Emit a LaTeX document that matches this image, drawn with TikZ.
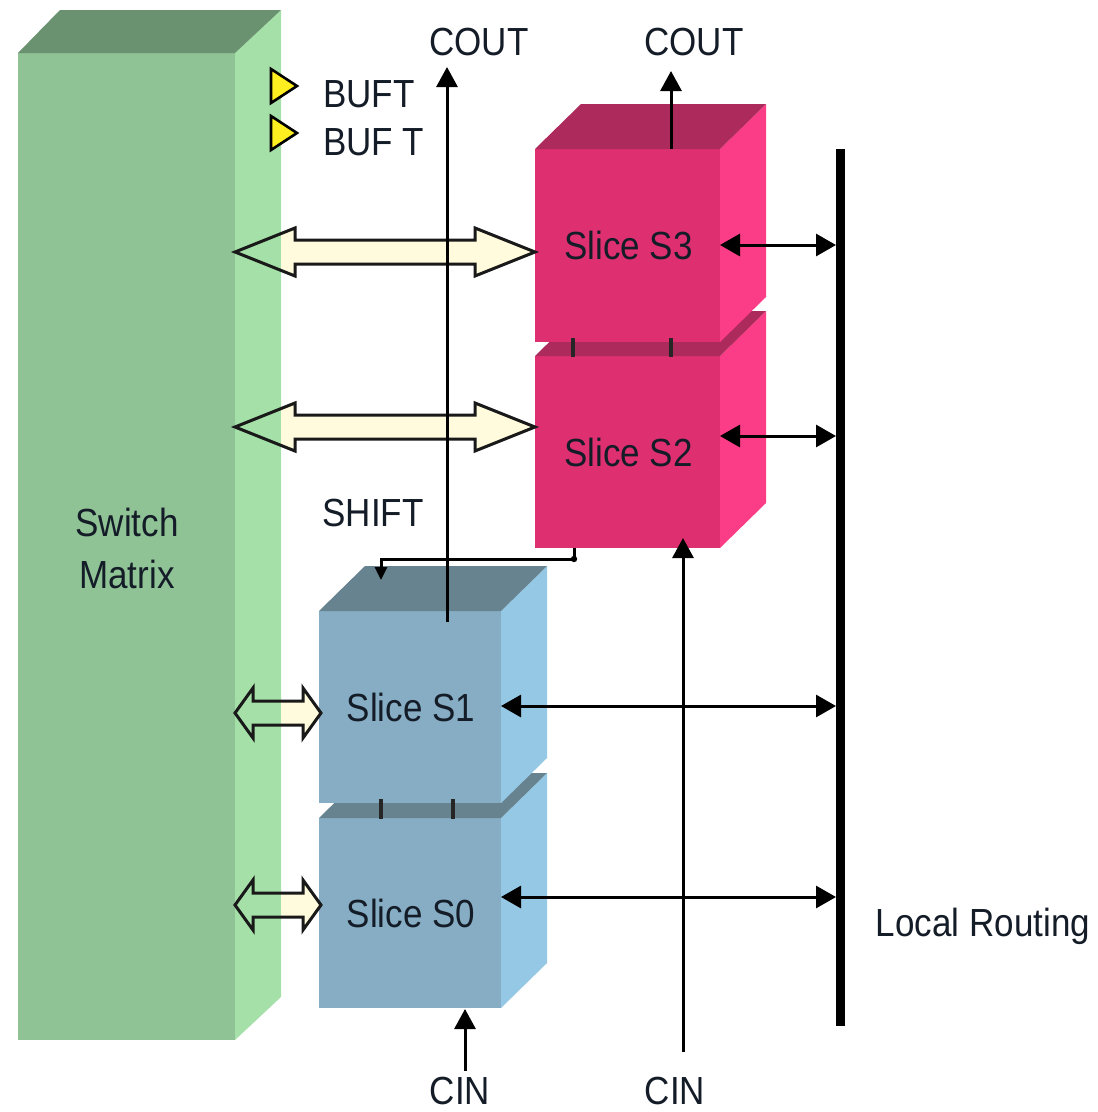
\documentclass[tikz,border=0pt]{standalone}
\usepackage{graphicx}
\usepackage{fontspec}
\setmainfont{Liberation Sans}
\usetikzlibrary{arrows.meta,calc}
\definecolor{gfront}{HTML}{8FC294}
\definecolor{gside}{HTML}{A5E0A8}
\definecolor{gtop}{HTML}{6B9270}
\definecolor{pfront}{HTML}{DE3070}
\definecolor{pside}{HTML}{FB3C86}
\definecolor{ptop}{HTML}{AD2A5C}
\definecolor{bfront}{HTML}{86ADC3}
\definecolor{bside}{HTML}{95C8E4}
\definecolor{btop}{HTML}{66838F}
\definecolor{cream}{HTML}{FFFBDC}
\definecolor{buf}{HTML}{FFEE20}
\definecolor{ink}{HTML}{141C28}
\newcommand{\tall}[1]{\scalebox{1}[1.12]{#1}}
\tikzset{
  lbl/.style={font=\fontsize{35}{52}\selectfont, text=ink, inner sep=0pt, outer sep=0pt, align=center},
  face/.style={rectangle, inner sep=0pt, outer sep=0pt, font=\fontsize{35}{52}\selectfont, text=ink, align=center},
  wire/.style={line width=3pt, draw=black},
  twoway/.style={wire, {Stealth[length=20pt,width=22pt,inset=0pt]}-{Stealth[length=20pt,width=22pt,inset=0pt]}},
  oneway/.style={wire, -{Stealth[length=20pt,width=21pt,inset=0pt]}},
  fat/.style={line width=3pt, draw=black!90, line join=miter},
  tick/.style={line width=3.2pt, draw=black!85},
  buffer/.style={draw=black, line width=2.6pt, fill=buf, line join=miter}
}
% name, cx, cy, w, h, label, front, side, top
\newcommand{\solidbox}[9]{%
  \node[face, fill=#7, minimum width=#4pt, minimum height=#5pt] (#1) at (#2,#3) {\hspace*{2pt}\tall{#6}};
  \fill[#8] (#1.north east) -- ++(46,-45) -- ++(0,#5) -- (#1.south east) -- cycle;
  \fill[#9] (#1.north west) -- ++(46,-45) -- ++(#4,0) -- ++(-46,45) -- cycle;
}
% A, B, head length, head half, shaft half
\newcommand{\fatpath}[5]{($(#1)$) -- ($(#1)+(#3,-#4)$) -- ($(#1)+(#3,-#5)$) -- ($(#2)+(-#3,-#5)$) -- ($(#2)+(-#3,-#4)$) -- ($(#2)$) -- ($(#2)+(-#3,#4)$) -- ($(#2)+(-#3,#5)$) -- ($(#1)+(#3,#5)$) -- ($(#1)+(#3,#4)$) -- cycle}
\newcommand{\fatarrow}[5]{%
  \fill[cream] \fatpath{#1}{#2}{#3}{#4}{#5};
  \begin{scope}
    \clip \fatpath{#1}{#2}{#3}{#4}{#5};
    \fill[gside] (sm.north east) rectangle ($(sm.south east)+(46,0)$);
  \end{scope}
  \draw[fat] \fatpath{#1}{#2}{#3}{#4}{#5};
}
\begin{document}
\begin{tikzpicture}[x=1pt,y=-1pt]
\useasboundingbox (0,0) rectangle (1098,1112);
\fill[white] (0,0) rectangle (1098,1112);

% switch matrix
\node[face, fill=gfront, minimum width=217pt, minimum height=987pt] (sm) at (126.5,546.5) {};
\fill[gside] (sm.north east) -- ++(46,-43) -- ++(0,987) -- (sm.south east) -- cycle;
\fill[gtop] (sm.north west) -- ++(42,-43) -- ++(221,0) -- (sm.north east) -- cycle;
\node[lbl] (smlabel) at (127,548) {\tall{Switch}\\\tall{Matrix}};

% slices
\solidbox{S2}{627.5}{452}{185}{192}{Slice S2}{pfront}{pside}{ptop}
\solidbox{S3}{627.5}{245.5}{185}{193}{Slice S3}{pfront}{pside}{ptop}
\solidbox{S0}{410}{913}{182}{190}{Slice S0}{bfront}{bside}{btop}
\solidbox{S1}{410}{707}{182}{192}{Slice S1}{bfront}{bside}{btop}

% levels
\path (0,252) coordinate (r3) (0,427) coordinate (r2) (0,713) coordinate (r1) (0,905) coordinate (r0);
\path (0,245) coordinate (q3) (0,436) coordinate (q2) (0,706) coordinate (q1) (0,897) coordinate (q0);

% fat arrows
\coordinate (a3) at (sm.east |- r3); \coordinate (b3) at (S3.west |- r3);
\coordinate (a2) at (sm.east |- r2); \coordinate (b2) at (S2.west |- r2);
\coordinate (a1) at (sm.east |- r1); \coordinate (b1) at ($(S1.west |- r1)+(2,0)$);
\coordinate (a0) at (sm.east |- r0); \coordinate (b0) at ($(S0.west |- r0)+(2,0)$);
\fatarrow{a3}{b3}{60}{24}{12}
\fatarrow{a2}{b2}{60}{24}{12}
\fatarrow{a1}{b1}{18}{25}{12}
\fatarrow{a0}{b0}{18}{25}{12}

% local routing bar
\node[rectangle, fill=black, inner sep=0pt, outer sep=0pt, minimum width=9pt, minimum height=877pt] (bar) at (840.5,587) {};
\node[lbl] (lr) at (983,926) {\tall{Local Routing}};

% connectors to the local routing
\draw[twoway] ($(S3.east |- q3)$) -- (bar.west |- q3);
\draw[twoway] ($(S2.east |- q2)$) -- (bar.west |- q2);
\draw[twoway] ($(S1.east |- q1)$) -- (bar.west |- q1);
\draw[twoway] ($(S0.east |- q0)$) -- (bar.west |- q0);

% COUT
\node[lbl] (cout1) at (479,42) {\tall{COUT}};
\node[lbl] (cout2) at (694,42) {\tall{COUT}};
\coordinate (c1s) at (447,622); \coordinate (c1e) at (447,67);
\coordinate (c2s) at (671,149); \coordinate (c2e) at (671,71);
\draw[oneway] (c1s) -- (c1e);
\draw[oneway] (c2s) -- (c2e);

% CIN
\node[lbl] (cin1) at (460,1091) {\tall{CIN}};
\node[lbl] (cin2) at (675,1091) {\tall{CIN}};
\coordinate (d1s) at (465,1071); \coordinate (d1e) at (465,1009);
\coordinate (d2s) at (683,1052); \coordinate (d2e) at (683,538);
\draw[oneway] (d1s) -- (d1e);
\draw[oneway] (d2s) -- (d2e);

% shift
\node[lbl] (shift) at (373,513) {\tall{SHIFT}};
\coordinate (sa) at (574,548); \coordinate (sb) at (574,559); \coordinate (sc) at (381,559); \coordinate (sd) at (381,580);
\draw[wire, -{Stealth[length=13pt,width=12pt,inset=0pt]}] (sa) -- (sb) -- (sc) -- (sd);
\fill[black] (sb) circle (3.2);

% ticks between slices
\draw[tick] (573,338) -- (573,357);
\draw[tick] (671,338) -- (671,357);
\draw[tick] (381,799) -- (381,819);
\draw[tick] (453,799) -- (453,819);

% buffers
\draw[buffer] (271,69) -- (297,86) -- (271,103) -- cycle;
\draw[buffer] (271,116) -- (297,133) -- (271,150) -- cycle;
\node[lbl, anchor=west] (buf1) at (323,94) {\tall{BUFT}};
\node[lbl, anchor=west] (buf2) at (323,142) {\tall{BUF T}};
\end{tikzpicture}
\end{document}
